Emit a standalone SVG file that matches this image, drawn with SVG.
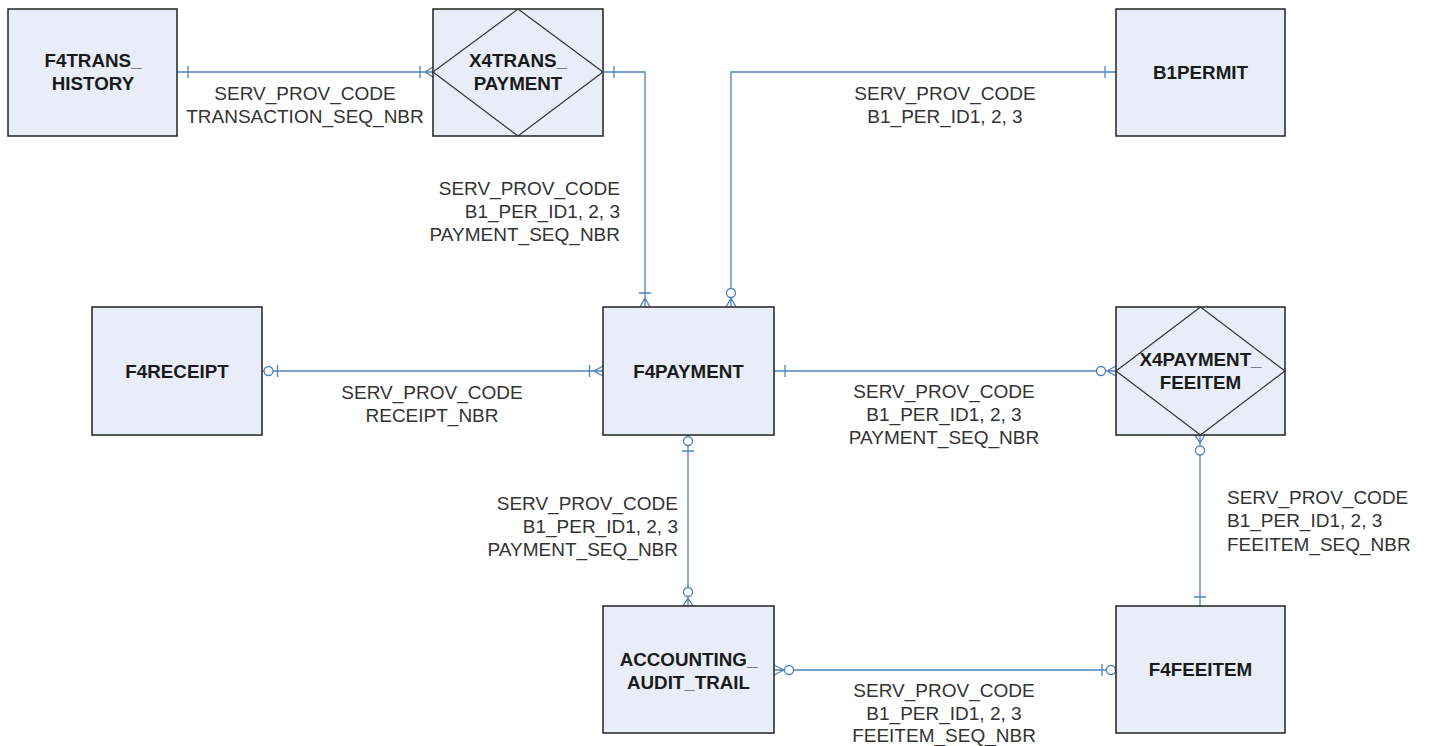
<svg xmlns="http://www.w3.org/2000/svg" width="1429" height="746" viewBox="0 0 1429 746">
<style>
.box{fill:#e8edf7;stroke:#222;stroke-width:1.5}
.dia{fill:none;stroke:#333;stroke-width:1.2}
.title{font-family:"Liberation Sans",Arial,sans-serif;font-size:18.8px;font-weight:bold;fill:#1a1a1a;text-anchor:middle}
.lbl{font-family:"Liberation Sans",Arial,sans-serif;font-size:19px;fill:#333}
.conn{fill:none;stroke:#4f81bd;stroke-width:1.3}
.circ{fill:#fff;stroke:#4f81bd;stroke-width:1.3}
</style>
<rect width="1429" height="746" fill="#fff"/>

<g id="connectors">
  <!-- F4TRANS_HISTORY - X4TRANS_PAYMENT -->
  <path class="conn" d="M177,72 H433 M188,66 V78 M420,66 V78 M425,72 L433,67 M425,72 L433,77"/>
  <!-- X4TRANS_PAYMENT - F4PAYMENT -->
  <path class="conn" d="M603,72 H645 V307 M614,66 V78 M639,293 H651 M645,298 L640,307 M645,298 L650,307"/>
  <!-- B1PERMIT - F4PAYMENT -->
  <path class="conn" d="M1116,72 H731 V307 M1105,66 V78 M731,298 L726,307 M731,298 L736,307"/>
  <circle class="circ" cx="731" cy="293" r="4.5"/>
  <!-- F4RECEIPT - F4PAYMENT -->
  <path class="conn" d="M262,371 H603 M277.5,365 V377 M589.5,365 V377 M594,371 L603,366 M594,371 L603,376"/>
  <circle class="circ" cx="268.5" cy="371" r="4.5"/>
  <!-- F4PAYMENT - X4PAYMENT_FEEITEM -->
  <path class="conn" d="M774,371 H1116 M785,365 V377 M1107,371 L1116,366 M1107,371 L1116,376"/>
  <circle class="circ" cx="1101" cy="371" r="4.5"/>
  <!-- X4PAYMENT_FEEITEM - F4FEEITEM -->
  <path class="conn" d="M1200,435 V606 M1200,443 L1195,435 M1200,443 L1205,435 M1194,597 H1206"/>
  <circle class="circ" cx="1200" cy="450.5" r="4.5"/>
  <!-- F4PAYMENT - ACCOUNTING_AUDIT_TRAIL -->
  <path class="conn" d="M688,435 V606 M682,451 H694 M688,598 L683,606 M688,598 L693,606"/>
  <circle class="circ" cx="688" cy="441" r="4.5"/>
  <circle class="circ" cx="688" cy="592" r="4.5"/>
  <!-- ACCOUNTING_AUDIT_TRAIL - F4FEEITEM -->
  <path class="conn" d="M774,670 H1116 M784,670 L774,665 M784,670 L774,675 M1102,664 V676"/>
  <circle class="circ" cx="789" cy="670" r="4.5"/>
  <circle class="circ" cx="1111" cy="670" r="4.5"/>
</g>

<g id="F4TRANS_HISTORY">
  <rect class="box" x="8" y="9" width="169" height="127"/>
  <text class="title" x="93" y="66.5">F4TRANS_</text>
  <text class="title" x="93" y="89.5">HISTORY</text>
</g>
<g id="X4TRANS_PAYMENT">
  <rect class="box" x="433" y="9" width="170" height="127"/>
  <polygon class="dia" points="518,9 603,72 518,136 433,72"/>
  <text class="title" x="518" y="66.5">X4TRANS_</text>
  <text class="title" x="518" y="89.5">PAYMENT</text>
</g>
<g id="B1PERMIT">
  <rect class="box" x="1116" y="9" width="169" height="127"/>
  <text class="title" x="1200.5" y="78.5">B1PERMIT</text>
</g>
<g id="F4RECEIPT">
  <rect class="box" x="92" y="307" width="170" height="128"/>
  <text class="title" x="177" y="377.5">F4RECEIPT</text>
</g>
<g id="F4PAYMENT">
  <rect class="box" x="603" y="307" width="171" height="128"/>
  <text class="title" x="688.5" y="377.5">F4PAYMENT</text>
</g>
<g id="X4PAYMENT_FEEITEM">
  <rect class="box" x="1116" y="307" width="169" height="128"/>
  <polygon class="dia" points="1200.5,307 1285,371 1200.5,435 1116,371"/>
  <text class="title" x="1200.5" y="366">X4PAYMENT_</text>
  <text class="title" x="1200.5" y="389">FEEITEM</text>
</g>
<g id="ACCOUNTING_AUDIT_TRAIL">
  <rect class="box" x="603" y="606" width="171" height="127"/>
  <text class="title" x="688.5" y="665.5">ACCOUNTING_</text>
  <text class="title" x="688.5" y="688.5">AUDIT_TRAIL</text>
</g>
<g id="F4FEEITEM">
  <rect class="box" x="1116" y="606" width="169" height="127"/>
  <text class="title" x="1200.5" y="675.5">F4FEEITEM</text>
</g>

<g id="labels">
  <text class="lbl" text-anchor="middle" x="305" y="100">SERV_PROV_CODE</text>
  <text class="lbl" text-anchor="middle" x="305" y="123">TRANSACTION_SEQ_NBR</text>

  <text class="lbl" text-anchor="end" x="620" y="195">SERV_PROV_CODE</text>
  <text class="lbl" text-anchor="end" x="620" y="218">B1_PER_ID1, 2, 3</text>
  <text class="lbl" text-anchor="end" x="620" y="241">PAYMENT_SEQ_NBR</text>

  <text class="lbl" text-anchor="middle" x="945" y="100">SERV_PROV_CODE</text>
  <text class="lbl" text-anchor="middle" x="945" y="123">B1_PER_ID1, 2, 3</text>

  <text class="lbl" text-anchor="middle" x="432" y="399">SERV_PROV_CODE</text>
  <text class="lbl" text-anchor="middle" x="432" y="422">RECEIPT_NBR</text>

  <text class="lbl" text-anchor="middle" x="944" y="398">SERV_PROV_CODE</text>
  <text class="lbl" text-anchor="middle" x="944" y="421">B1_PER_ID1, 2, 3</text>
  <text class="lbl" text-anchor="middle" x="944" y="444">PAYMENT_SEQ_NBR</text>

  <text class="lbl" text-anchor="end" x="678" y="510">SERV_PROV_CODE</text>
  <text class="lbl" text-anchor="end" x="678" y="533">B1_PER_ID1, 2, 3</text>
  <text class="lbl" text-anchor="end" x="678" y="556">PAYMENT_SEQ_NBR</text>

  <text class="lbl" x="1227" y="504">SERV_PROV_CODE</text>
  <text class="lbl" x="1227" y="527">B1_PER_ID1, 2, 3</text>
  <text class="lbl" x="1227" y="550.5">FEEITEM_SEQ_NBR</text>

  <text class="lbl" text-anchor="middle" x="944" y="697">SERV_PROV_CODE</text>
  <text class="lbl" text-anchor="middle" x="944" y="720">B1_PER_ID1, 2, 3</text>
  <text class="lbl" text-anchor="middle" x="944" y="741.5">FEEITEM_SEQ_NBR</text>
</g>
</svg>
